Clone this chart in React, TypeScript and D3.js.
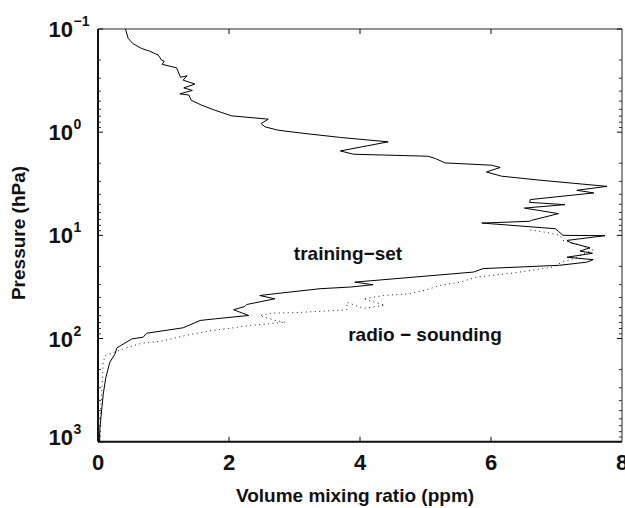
import * as d3 from "d3";
import React from "react";

// training-set profile (solid), top of atmosphere to surface
const trainX = [0.42, 0.46, 0.53, 0.66, 0.79, 0.92, 0.97, 1.01, 0.98, 1.2, 1.26, 1.36, 1.3, 1.48, 1.31, 1.44, 1.25, 1.39, 1.42, 1.58, 1.78, 2.04, 2.6, 2.49, 2.55, 2.75, 3.08, 3.7, 4.43, 3.7, 3.9, 5.04, 5.15, 5.3, 6.01, 6.14, 5.93, 6.16, 6.75, 7.77, 7.31, 7.57, 6.6, 6.59, 7.13, 6.51, 7.03, 6.62, 6.59, 5.86, 6.98, 7.03, 7.1, 7.74, 7.16, 7.23, 7.31, 7.51, 7.36, 7.55, 7.16, 7.56, 7.46, 7.05, 5.88, 5.73, 3.92, 4.2, 3.85, 3.39, 2.7, 2.47, 2.7, 2.27, 2.24, 2.07, 2.3, 1.79, 1.56, 1.3, 0.74, 0.69, 0.52, 0.29, 0.26, 0.18, 0.12, 0.08, 0.03, 0.02];
const trainP = [0.1, 0.123, 0.138, 0.154, 0.164, 0.179, 0.2, 0.205, 0.22, 0.238, 0.294, 0.284, 0.313, 0.342, 0.372, 0.394, 0.425, 0.437, 0.489, 0.547, 0.611, 0.695, 0.748, 0.824, 0.888, 0.957, 1.016, 1.125, 1.241, 1.52, 1.636, 1.711, 1.8, 1.986, 2.09, 2.2, 2.43, 2.67, 2.92, 3.35, 3.66, 3.88, 4.5, 4.79, 5.04, 5.44, 6.16, 7.15, 7.31, 7.6, 8.62, 9.15, 10.0, 10.07, 11.2, 11.9, 12.2, 13.2, 14.2, 14.9, 16.3, 17.2, 18.2, 19.5, 21.0, 22.7, 28.4, 30.1, 31.7, 32.9, 36.8, 38.3, 41.2, 46.8, 48.9, 52.6, 59.8, 64.4, 66.8, 78.7, 88.9, 97.1, 100.7, 123, 141, 170, 238, 345, 726, 1000];

// radio-sounding profile (dotted)
const radioX = [6.6, 6.9, 7.05, 7.1, 7.28, 7.41, 7.56, 7.41, 7.28, 7.08, 6.95, 6.34, 5.78, 5.53, 5.22, 5.02, 4.76, 4.36, 4.05, 4.38, 4.05, 3.8, 3.8, 3.39, 3.06, 2.65, 2.47, 2.58, 2.7, 2.86, 2.6, 2.3, 2.07, 1.74, 1.33, 0.97, 0.67, 0.46, 0.11, 0.08, 0.06, 0.04, 0.03];
const radioP = [8.85, 9.5, 10.0, 11.2, 12.05, 12.8, 13.8, 15.1, 16.7, 18.2, 20.3, 23.2, 25.4, 28.4, 30.6, 33.6, 36.8, 38.3, 41.2, 47.5, 51, 44.5, 52.6, 54.5, 55.9, 56.8, 59.8, 63, 66.8, 69.5, 72, 74.8, 78.7, 83.6, 93.5, 106, 111, 121.5, 146, 170, 297, 500, 980];

const xTicks = [0, 2, 4, 6, 8];
const yDecades = [-1, 0, 1, 2, 3];

const FONT = "'Liberation Sans', Arial, Helvetica, sans-serif";

export default function App() {
  const left = 98, right = 622, top = 29, bottom = 441.7;
  const x = d3.scaleLinear().domain([0, 8]).range([left, right]);
  const y = d3.scaleLog().domain([0.1, 1000]).range([top, bottom]);

  const line = d3.line<[number, number]>()
    .x((d) => x(d[0]))
    .y((d) => y(d[1]));

  const trainPts = trainX.map((v, i) => [v, trainP[i]] as [number, number]);
  const radioPts = radioX.map((v, i) => [v, radioP[i]] as [number, number]);

  // minor ticks 2..9 in each decade
  const minor: number[] = [];
  for (let d = -1; d < 3; d++) {
    for (let k = 2; k <= 9; k++) minor.push(k * Math.pow(10, d));
  }

  return (
    <svg width={625} height={508} style={{ position: "absolute", left: 0, top: 0, background: "#fff" }} fontFamily={FONT} fontWeight="bold">
      {/* curves */}
      <path d={line(radioPts) || ""} fill="none" stroke="#222" strokeWidth={1} strokeDasharray="1 3.5" />
      <path d={line(trainPts) || ""} fill="none" stroke="#000" strokeWidth={1} />

      {/* axes box */}
      <line x1={left} x2={right} y1={top} y2={top} stroke="#222" strokeWidth={1} />
      <line x1={right} x2={right} y1={top} y2={bottom} stroke="#222" strokeWidth={1} />
      <line x1={left} x2={left} y1={top} y2={bottom} stroke="#111" strokeWidth={2} />
      <line x1={left} x2={right} y1={bottom} y2={bottom} stroke="#111" strokeWidth={2} />

      {/* x ticks */}
      {xTicks.map((t) => (
        <g key={"xt" + t}>
          {t > 0 && t < 8 && (
            <>
              <line x1={x(t)} x2={x(t)} y1={bottom} y2={bottom - 5} stroke="#111" />
              <line x1={x(t)} x2={x(t)} y1={top} y2={top + 5} stroke="#111" />
            </>
          )}
          <text x={x(t)} y={470} textAnchor="middle" fontSize={22} fill="#111">{t}</text>
        </g>
      ))}

      {/* y ticks */}
      {minor.map((v, i) => (
        <g key={"mn" + i}>
          <line x1={left} x2={left + 3} y1={y(v)} y2={y(v)} stroke="#333" strokeWidth={1} />
          <line x1={right} x2={right - 3} y1={y(v)} y2={y(v)} stroke="#333" strokeWidth={1} />
        </g>
      ))}
      {yDecades.map((e, i) => {
        const v = Math.pow(10, e);
        const yy = y(v);
        const base = yy + (i === yDecades.length - 1 ? 3 : 8);
        return (
          <g key={"yt" + e}>
            <line x1={left} x2={left + 5} y1={yy} y2={yy} stroke="#111" />
            <line x1={right} x2={right - 5} y1={yy} y2={yy} stroke="#111" />
            <text x={73} y={base} textAnchor="end" fontSize={22} fill="#111">10</text>
            <text x={73.5} y={base - 11} textAnchor="start" fontSize={14} fill="#111">{e < 0 ? "\u2212" + Math.abs(e) : e}</text>
          </g>
        );
      })}

      {/* annotations */}
      <text x={x(2.99)} y={260} fontSize={19} fill="#111">training{"\u2212"}set</text>
      <text x={x(3.82)} y={341} fontSize={19} fill="#111">radio {"\u2212"} sounding</text>

      {/* axis labels */}
      <text x={(left + right) / 2 - 5} y={502} textAnchor="middle" fontSize={19} fill="#111">Volume mixing ratio (ppm)</text>
      <text transform={`translate(25,233) rotate(-90)`} textAnchor="middle" fontSize={19} fill="#111">Pressure (hPa)</text>
    </svg>
  );
}
